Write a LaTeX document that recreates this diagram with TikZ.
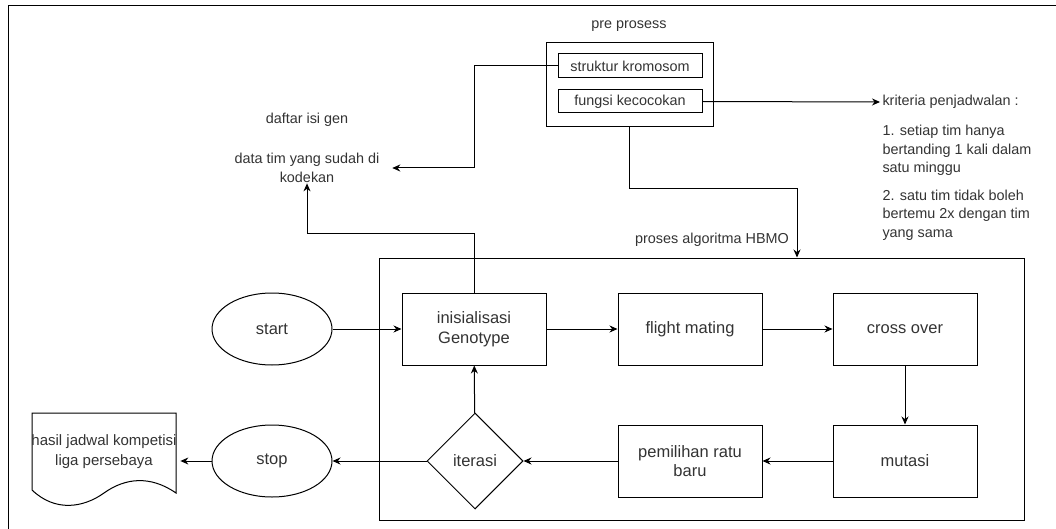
\documentclass[tikz,border=0pt]{standalone}
\usepackage{fontspec}
\setmainfont{Liberation Sans}
\usetikzlibrary{shapes.geometric,arrows.meta}
\definecolor{InkGray}{HTML}{333333}

\begin{document}
\begin{tikzpicture}[x=1pt,y=-1pt, line width=1pt,
  every node/.style={font=\fontsize{14.4}{18.5}\selectfont, text=InkGray},
  bigtext/.style={font=\fontsize{16.5}{19.5}\selectfont},
  procbox/.style={draw, bigtext, minimum width=144pt, minimum height=72pt, align=center, inner sep=0pt},
  termbox/.style={draw, bigtext, ellipse, minimum width=120pt, minimum height=72pt, inner sep=0pt},
  >={Stealth[length=8pt,width=7pt]}]
  \useasboundingbox (0,0) rectangle (1056,529);
  \draw (8,529) -- (8,6) -- (1056,6);
  % pre prosess
  \node (prelabel) at (629,26) {pre prosess};
  \node[draw, minimum width=167pt, minimum height=84pt] (prebox) at (629.5,85) {};
  \node[draw, minimum width=144pt, minimum height=24pt, inner sep=0pt] (struktur) at (630,66) {struktur kromosom};
  \node[draw, minimum width=144pt, minimum height=23pt, inner sep=0pt] (fungsi) at (630,101.5) {fungsi kecocokan};
  % daftar isi gen
  \node (daftar) at (307,120) {daftar isi gen};
  \node[align=center] (data) at (307,168) {data tim yang sudah di\\kodekan};
  % kriteria
  \node[anchor=west, inner sep=2pt] (krit) at (880,102) {kriteria penjadwalan :};
  \node[anchor=north west, align=left, inner sep=0pt] (kritlist) at (882,125)
    {1. setiap tim hanya\\bertanding 1 kali dalam\\satu minggu\\[9pt]2. satu tim tidak boleh\\bertemu 2x dengan tim\\yang sama};
  % proses algoritma HBMO
  \node (hbmolabel) at (712,240) {proses algoritma HBMO};
  \node[draw, minimum width=645pt, minimum height=262pt] (hbmo) at (701.5,389) {};
  \node[procbox] (init) at (474,329) {inisialisasi\\Genotype};
  \node[procbox] (flight) at (690,329) {flight mating};
  \node[procbox] (cross) at (905,329) {cross over};
  \node[procbox] (mutasi) at (905,461) {mutasi};
  \node[procbox] (ratu) at (690,461) {pemilihan ratu\\baru};
  \node[draw, bigtext, diamond, minimum width=96pt, minimum height=96pt, inner sep=0pt] (iter) at (475,461) {iterasi};
  \node[termbox] (start) at (272,329) {start};
  \node[termbox] (stop) at (272,461) {stop};
  % hasil
  \draw (32,413) -- (176,413) -- (176,493)
    .. controls (150,475) and (125,478) .. (104,493)
    .. controls (83,508) and (55,512) .. (32,490) -- cycle;
  \node[align=center, minimum width=144pt, font=\fontsize{15}{20}\selectfont] (hasil) at (104,452) {hasil jadwal kompetisi\\liga persebaya};
  % connectors
  \draw[->] (start) -- (init);
  \draw[->] (init) -- (flight);
  \draw[->] (flight) -- (cross);
  \draw[->] (cross) -- (mutasi);
  \draw[->] (mutasi) -- (ratu);
  \draw[->] (ratu) -- (iter);
  \draw[->] (iter) -- (init);
  \draw[->] (iter) -- (stop);
  \draw[->] (stop.west) -- (stop.west -| hasil.east);
  \draw[->] (init.north) -- ++(0,-59) -| ([yshift=3pt]data.south);
  \draw[->] (struktur.west) -- ++(-83,0) |- ([xshift=9pt]data.east);
  \draw[->] (fungsi.east) -- (krit.west);
  \draw[->] (prebox.south) -- ++(0,61) -| ([xshift=95.5pt]hbmo.north);
\end{tikzpicture}
\end{document}
